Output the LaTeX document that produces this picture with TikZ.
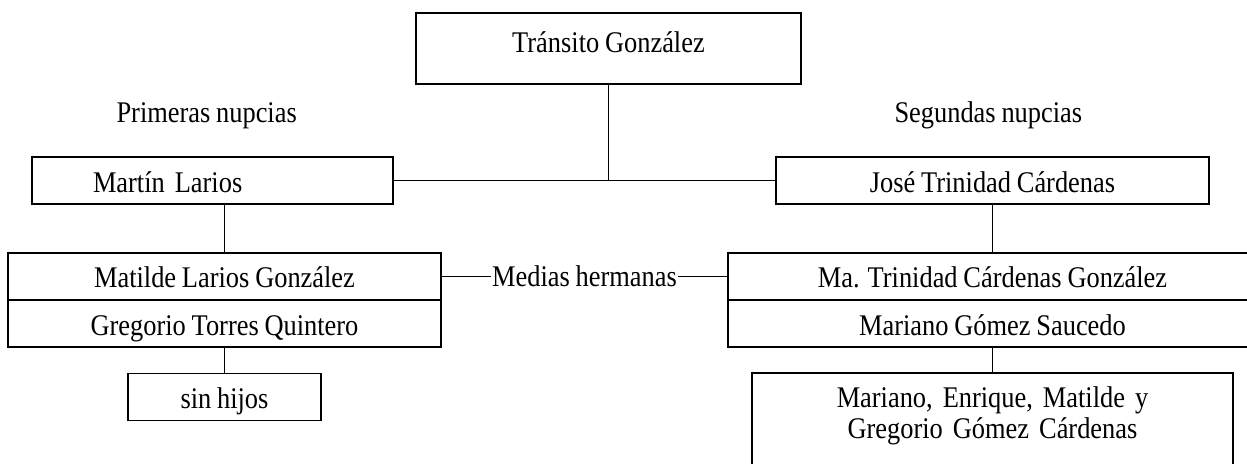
\documentclass[tikz,border=0pt]{standalone}
\usepackage{fontspec}
\setmainfont{Liberation Serif}[FakeStretch=0.88, WordSpace=0.88]
\usepackage{tikz}
\usetikzlibrary{positioning}

\begin{document}
\begin{tikzpicture}[x=1pt, y=-1pt,
  font=\fontsize{30}{31.5}\selectfont,
  caja/.style={draw, line width=1.8pt, inner xsep=0pt, inner ysep=0pt, outer sep=0pt,
    minimum height=47pt, text height=35pt, text depth=12pt},
  linea/.style={line width=1.5pt}]
  \useasboundingbox (0,0) rectangle (1247,463);
  \clip (0,0) rectangle (1247,463);
  \node [caja, minimum width=385pt, text height=39pt, text depth=32pt] (transito) at (608.5,48.5) {Tránsito González};
  \node [anchor=base west] (primeras) at (113,122) {Primeras nupcias};
  \node [anchor=base west] (segundas) at (891,122) {Segundas nupcias};
  \node [caja, minimum width=361pt, inner xsep=61pt, text width=239pt, align=left] (martin) at (212.5,180.5) {Martín Larios};
  \node [caja, minimum width=433pt] (jose) at (992.5,180.5) {José Trinidad Cárdenas};
  \node [caja, minimum width=433pt, text height=34pt, text depth=13pt] (matilde) at (224.5,276.5) {Matilde Larios González};
  \node [caja, minimum width=433pt, below=0pt of matilde] (gregorio) {Gregorio Torres Quintero};
  \node [caja, minimum width=529pt, text height=34pt, text depth=13pt] (matrinidad) at (992.5,276.5) {Ma. Trinidad Cárdenas González};
  \node [caja, minimum width=529pt, below=0pt of matrinidad] (mariano) {Mariano Gómez Saucedo};
  \node [inner sep=1pt] (medias) at (584.5,276.5) {Medias hermanas};
  \node [caja, minimum width=193pt] (sinhijos) at (224.5,397) {sin hijos};
  \node [caja, anchor=north, text width=481pt, align=center, text height=34pt, text depth=100pt] (hijos) at (992.5,373) {Mariano, Enrique, Matilde y\\Gregorio Gómez Cárdenas};
  \draw [linea] (martin) -- (jose);
  \draw [linea] (transito) -- (transito |- martin);
  \draw [linea] (martin.south -| matilde.north) -- (matilde);
  \draw [linea] (jose) -- (matrinidad);
  \draw [linea] (matilde) -- (medias);
  \draw [linea] (medias) -- (matrinidad);
  \draw [linea] (gregorio) -- (sinhijos);
  \draw [linea] (mariano) -- (hijos);
\end{tikzpicture}
\end{document}
